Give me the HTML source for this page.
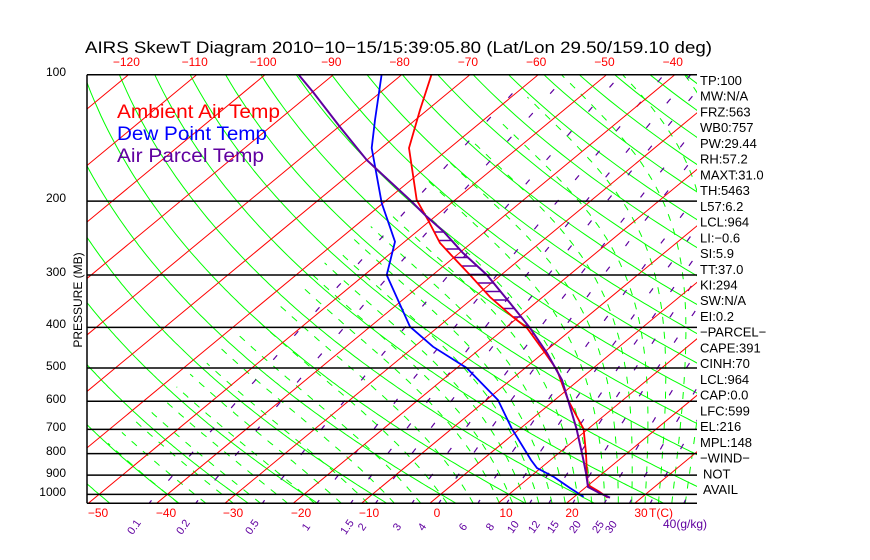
<!DOCTYPE html>
<html><head><meta charset="utf-8">
<style>
html,body{margin:0;padding:0;background:#fff;}
svg{display:block;font-family:"Liberation Sans",sans-serif;}
</style></head>
<body>
<svg id="s" width="870" height="560" viewBox="0 0 870 560" xmlns="http://www.w3.org/2000/svg">
<defs><clipPath id="c"><rect x="87" y="74.8" width="610" height="428.5"/></clipPath></defs>
<rect width="870" height="560" fill="#fff"/>
<g id="grid" clip-path="url(#c)"></g>
<g id="prof" clip-path="url(#c)"></g>
<g stroke="#000" stroke-width="1.5">
<line x1="87" y1="74.8" x2="697" y2="74.8"/>
<line x1="87" y1="503.3" x2="697" y2="503.3"/>
<line x1="87" y1="74.8" x2="87" y2="503.3"/>
</g>
<g id="hl" stroke="#000" stroke-width="1.5"></g>
<text x="85" y="53" font-size="17" textLength="627" lengthAdjust="spacingAndGlyphs">AIRS SkewT Diagram 2010−10−15/15:39:05.80 (Lat/Lon 29.50/159.10 deg)</text>
<g font-size="19">
<text x="117" y="118" fill="#ff0000" textLength="163" lengthAdjust="spacingAndGlyphs">Ambient Air Temp</text>
<text x="117" y="140" fill="#0000ff" textLength="150" lengthAdjust="spacingAndGlyphs">Dew Point Temp</text>
<text x="117" y="162" fill="#6000a0" textLength="147" lengthAdjust="spacingAndGlyphs">Air Parcel Temp</text>
</g>
<g id="lbl" font-size="12"></g>
<text transform="translate(82,300) rotate(-90)" font-size="12" text-anchor="middle">PRESSURE (MB)</text>
</svg>
<script>
var NS="http://www.w3.org/2000/svg";
function el(p,t,a,txt){var e=document.createElementNS(NS,t);for(var k in a)e.setAttribute(k,a[k]);if(txt!==undefined)e.textContent=txt;p.appendChild(e);return e;}
function yP(p){return 74.8+182.2*Math.log(p/100);}
function xT(T,y){return 429.8+6.83*T+(503.3-y)*1.2093;}
var G=document.getElementById('grid'),P=document.getElementById('prof'),HL=document.getElementById('hl'),L=document.getElementById('lbl');
var GR="#00ff00",RD="#ff0000",PU="#6000a0",BL="#0000ff";
function poly(par,pts,a){if(pts.length<2)return;var s=pts.map(function(q){return q[0].toFixed(1)+","+q[1].toFixed(1);}).join(" ");a.points=s;a.fill="none";return el(par,"polyline",a);}
// dry adiabats
for(var th=-50;th<=260;th+=10){var pts=[];for(var p=1060;p>=95;p-=5){var T=(th+273.15)*Math.pow(p/1000,0.2857)-273.15;var y=yP(p);pts.push([xT(T,y),y]);}poly(G,pts,{stroke:GR,"stroke-width":1});}
// moist adiabats
function es(T){return 6.112*Math.exp(17.67*T/(T+243.5));}
function rs(T,p){var e=es(T);return 0.622*e/(p-e);}
function dTdl(T,p){var Tk=T+273.15,r=rs(T,p);return (287*Tk+2.5e6*r)/(1004+2.5e6*2.5e6*r*0.622/(287*Tk*Tk));}
var tws=[];for(var t=-40;t<8;t+=4)tws.push(t);for(var t=8;t<=44;t+=2)tws.push(t);
tws.forEach(function(t0){var pts=[];var T=t0,lp=Math.log(1000),h=0.01;
 var down=[];var Td=t0;for(var l=lp;l<=Math.log(1060);l+=h){var p=Math.exp(l);down.push([xT(Td,yP(p)),yP(p)]);Td+=dTdl(Td,p)*h;}
 down.reverse();pts=down;
 for(var l=lp;l>=Math.log(95);l-=h){var p=Math.exp(l);var y=yP(p);if(T<-58)break;pts.push([xT(T,y),y]);T-=dTdl(T,p)*h;}
 poly(G,pts,{stroke:GR,"stroke-width":1,"stroke-dasharray":"7 8"});});
// mixing ratio
[0.1,0.2,0.5,1,1.5,2,3,4,6,8,10,12,15,20,25,30,40].forEach(function(w){var pts=[];for(var p=1060;p>=95;p-=5){var e=w*p/(622+w);var a=Math.log(e/6.112);var Td=243.5*a/(17.67-a);var y=yP(p);pts.push([xT(Td,y),y]);}poly(G,pts,{stroke:PU,"stroke-width":1.2,"stroke-dasharray":"6 26"});});
// isotherms
for(var T=-170;T<=60;T+=10){el(G,"line",{x1:xT(T,503.3),y1:503.3,x2:xT(T,74.8),y2:74.8,stroke:RD,"stroke-width":1});}
// pressure lines
[200,300,400,500,600,700,800,900,1000].forEach(function(p){var y=yP(p);el(HL,"line",{x1:87,y1:y,x2:697,y2:y});});
// profiles
var red=[[431.7,74],[420,110],[409,148],[416.7,200],[428,220],[440,243],[453,257],[470,275],[490,297],[513,317],[527,328],[543,350],[557,370],[568,400],[583.6,429],[586,453],[587,475.7],[588,485],[599.4,491.7],[607.7,497.7]];
var blue=[[381.7,74],[375,120],[371.7,148],[381.7,203],[395,241.7],[386.7,275],[410,326.7],[433,346.7],[466.7,368],[498,400],[512,429],[520.6,443],[531,460],[537,468],[554,477],[570,488],[583.6,496.7]];
var par=[[298,74],[313,92],[340,127],[366.7,160],[410,200],[425,215],[443,231],[463,253],[487,275],[510,303],[530,328],[547,353],[562,380],[568,400],[576.6,429],[583,458],[586,473],[588,487],[599.4,493],[610,497.7]];
function xat(arr,y){for(var i=0;i<arr.length-1;i++){if(y>=arr[i][1]&&y<=arr[i+1][1]){var f=(y-arr[i][1])/(arr[i+1][1]-arr[i][1]);return arr[i][0]+f*(arr[i+1][0]-arr[i][0]);}}return null;}
for(var y=232;y<=392;y+=8.5){var a=xat(red,y),b=xat(par,y);if(a!==null&&b!==null&&b>a)el(P,"line",{x1:a,y1:y,x2:b,y2:y,stroke:PU,"stroke-width":1.5});}
poly(P,red,{stroke:RD,"stroke-width":1.8});
poly(P,blue,{stroke:BL,"stroke-width":1.8});
poly(P,par,{stroke:PU,"stroke-width":2});
// labels
[[100,66,76],[200,66,202],[300,66,276],[400,66,328],[500,66,370],[600,66,403],[700,66,431],[800,66,455],[900,66,477],[1000,66,496]].forEach(function(q){el(L,"text",{x:q[1],y:q[2],"text-anchor":"end"},String(q[0]));});
for(var T=-120;T<=-40;T+=10){el(L,"text",{x:xT(T,74.8)-2,y:66,"text-anchor":"middle",fill:RD},String(T).replace("-","−"));}
[[-50,98],[-40,166],[-30,233],[-20,301],[-10,369],[0,437],[10,506],[20,572],[30,641]].forEach(function(q){el(L,"text",{x:q[1],y:517,"text-anchor":"middle",fill:RD},String(q[0]).replace("-","−"));});
el(L,"text",{x:649,y:517,fill:RD},"T(C)");
[["0.1",137],["0.2",186],["0.5",255],["1",309],["1.5",350],["2",365],["3",400],["4",425],["6",466],["8",493],["10",516],["12",537],["15",556],["20",578],["25",601],["30",614]].forEach(function(q){el(L,"text",{transform:"translate("+q[1]+",529) rotate(-55)","text-anchor":"middle",fill:PU,"font-size":11},q[0]);});
el(L,"text",{x:663,y:528,fill:PU,"font-size":12},"40(g/kg)");
var rl=["TP:100","MW:N/A","FRZ:563","WB0:757","PW:29.44","RH:57.2","MAXT:31.0","TH:5463","L57:6.2","LCL:964","LI:−0.6","SI:5.9","TT:37.0","KI:294","SW:N/A","EI:0.2","−PARCEL−","CAPE:391","CINH:70","LCL:964","CAP:0.0","LFC:599","EL:216","MPL:148","−WIND−"," NOT"," AVAIL"];
rl.forEach(function(t,i){el(L,"text",{x:(t[0]==" "?703:700),y:85+i*15.73,"font-size":13},t.trim());});
</script>
</body></html>
